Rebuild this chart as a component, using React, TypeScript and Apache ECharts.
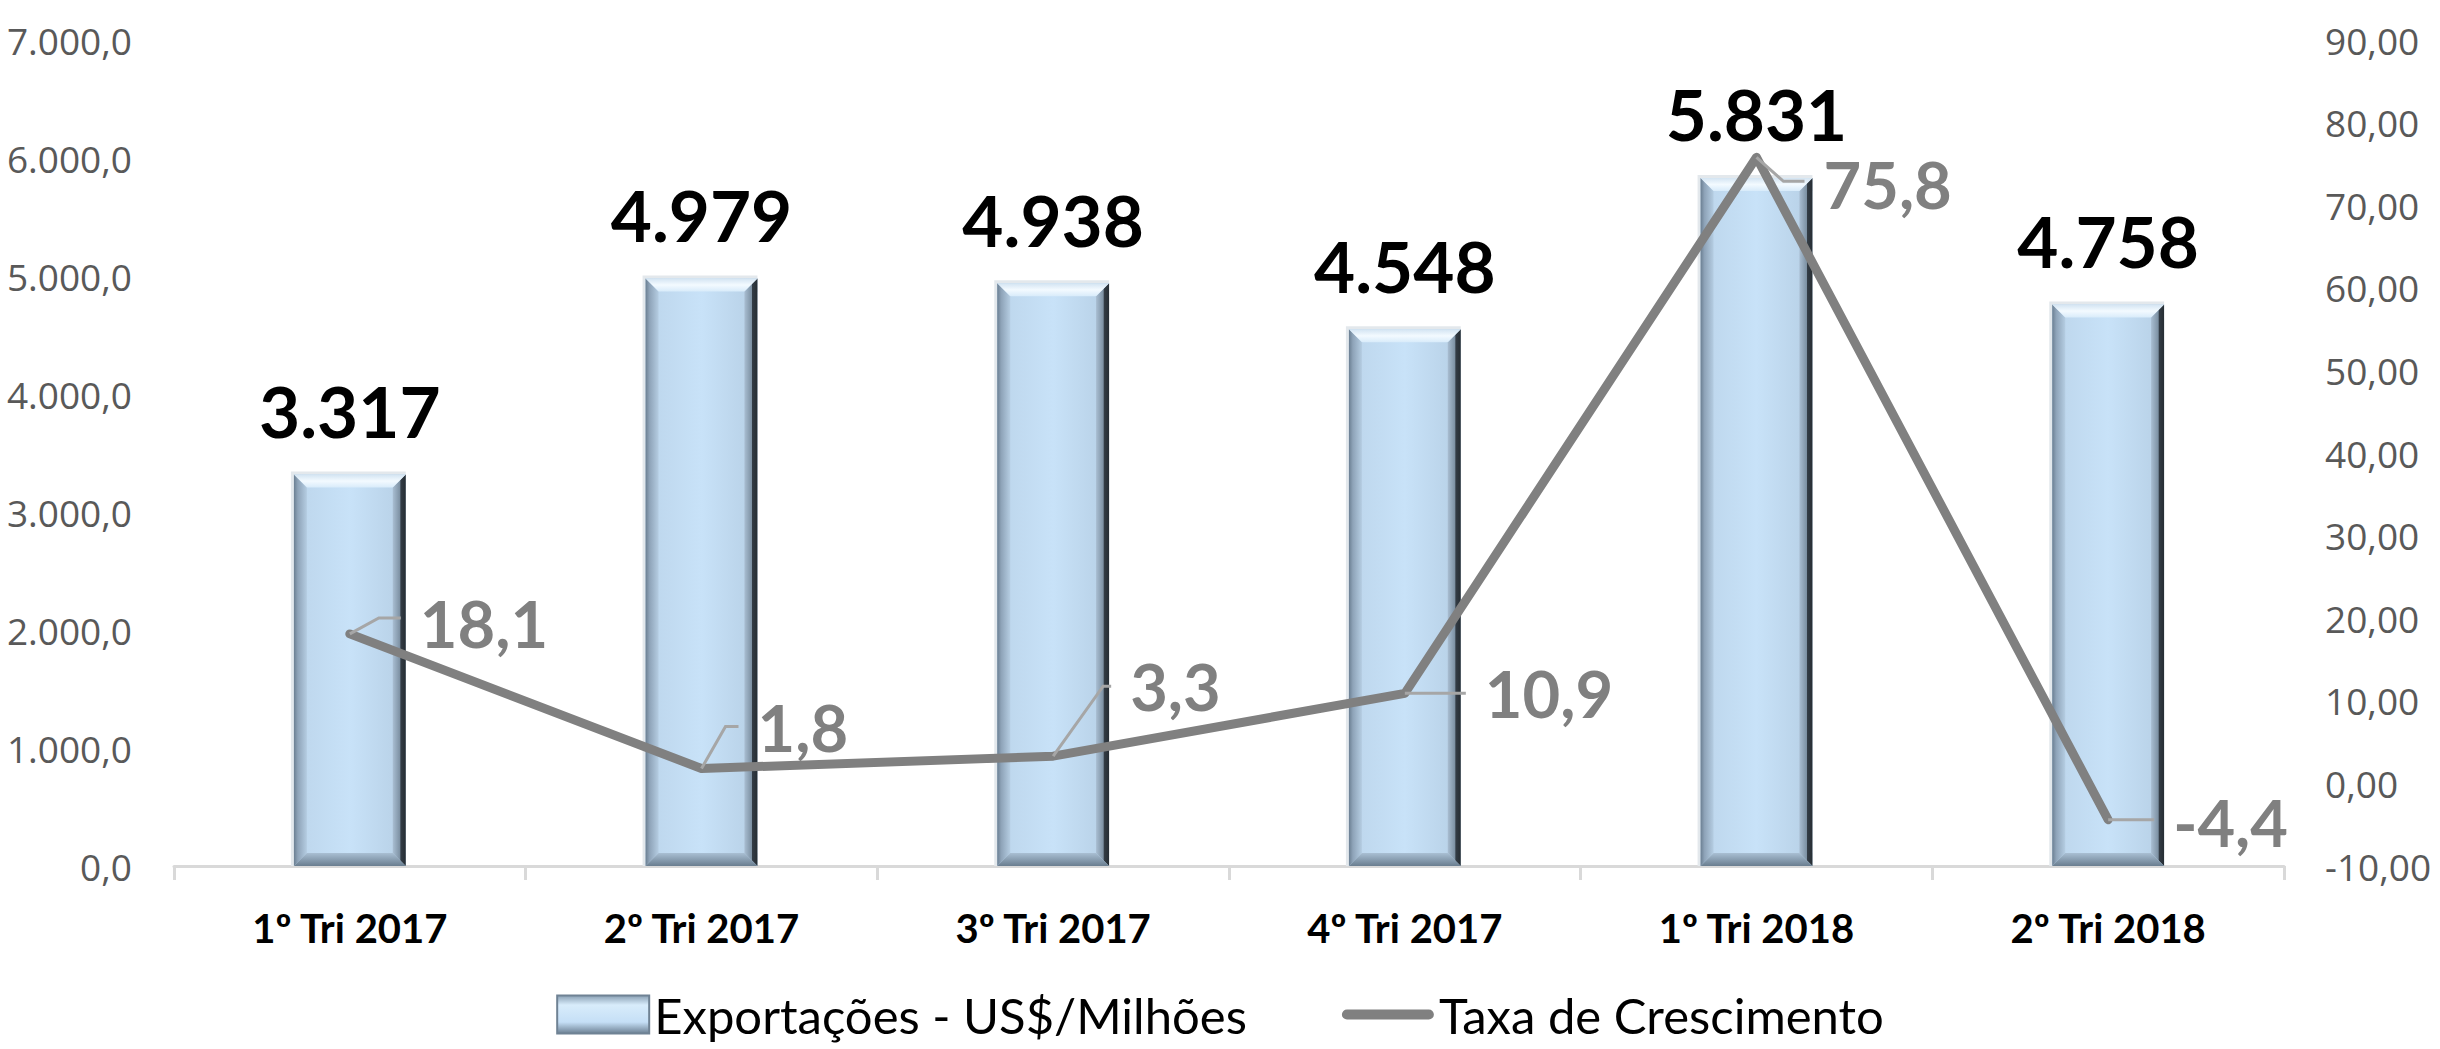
import React, { useEffect, useRef } from 'react';
import * as echarts from 'echarts';

// ---- data ----
const categories = ['1º Tri 2017', '2º Tri 2017', '3º Tri 2017', '4º Tri 2017', '1º Tri 2018', '2º Tri 2018'];
const exportacoes = [3317, 4979, 4938, 4548, 5831, 4758];
const taxaCrescimento = [18.1, 1.8, 3.3, 10.9, 75.8, -4.4];
const leftAxisTicks = [0, 1000, 2000, 3000, 4000, 5000, 6000, 7000];
const rightAxisTicks = [-10, 0, 10, 20, 30, 40, 50, 60, 70, 80, 90];
const barSeriesName = 'Exportações - US$/Milhões';
const lineSeriesName = 'Taxa de Crescimento';

// ---- label layout (offsets from the data point, in px) ----
const growthLabelOffsets = [[70, -11], [56, -42], [77, -70], [80, 0], [67, 27], [65, 2]];
const growthLeaderKnees = [[29, -16], [24, -42], [50, -70], [0, 0], [27, 24], [0, 0]];

const fmtThousands = (v: number) => String(Math.round(v)).replace(/\B(?=(\d{3})+(?!\d))/g, '.');
const fmtLeft = (v: number) => fmtThousands(v) + ',0';
const fmtRight = (v: number) => v.toFixed(2).replace('.', ',');
const fmtRate = (v: number) => v.toFixed(1).replace('.', ',');

const G = echarts.graphic.LinearGradient;

function renderBar(params: any, api: any) {
  const idx = api.value(0);
  const val = api.value(1);
  const top = api.coord([idx, val]);
  const base = api.coord([idx, 0]);
  const bw = api.size([1, 0])[0] * 0.318;
  const l = top[0] - bw / 2;
  const r = top[0] + bw / 2;
  const t = top[1];
  const b = base[1];
  const e = Math.min(13, (b - t) / 2);
  return {
    type: 'group',
    children: [
      { type: 'rect', shape: { x: l - 3, y: t - 3, width: bw + 3, height: b - t + 3 }, style: { fill: '#e3e8ec' } },
      {
        type: 'rect',
        shape: { x: l, y: t, width: bw, height: b - t },
        style: {
          fill: new G(0, 0, 1, 0, [
            { offset: 0, color: '#bcd5eb' },
            { offset: 0.5, color: '#c8e2f8' },
            { offset: 1, color: '#b6cfe5' },
          ]),
        },
      },
      {
        type: 'polygon',
        shape: { points: [[l, t], [l + e, t + e], [l + e, b - e], [l, b]] },
        style: {
          fill: new G(0, 0, 1, 0, [
            { offset: 0, color: '#6b7f92' },
            { offset: 0.3, color: '#8ea3b8' },
            { offset: 1, color: '#b5cde2' },
          ]),
        },
      },
      {
        type: 'polygon',
        shape: { points: [[r, t], [r, b], [r - e, b - e], [r - e, t + e]] },
        style: {
          fill: new G(0, 0, 1, 0, [
            { offset: 0, color: '#a9bed2' },
            { offset: 0.55, color: '#7d91a3' },
            { offset: 0.62, color: '#333c45' },
            { offset: 1, color: '#262d33' },
          ]),
        },
      },
      {
        type: 'polygon',
        shape: { points: [[l, t], [r, t], [r - e, t + e], [l + e, t + e]] },
        style: {
          fill: new G(0, 0, 0, 1, [
            { offset: 0, color: '#d3e4f2' },
            { offset: 0.5, color: '#f3faff' },
            { offset: 1, color: '#d8ebfa' },
          ]),
        },
      },
      {
        type: 'polygon',
        shape: { points: [[l, b], [l + e, b - e], [r - e, b - e], [r, b]] },
        style: {
          fill: new G(0, 0, 0, 1, [
            { offset: 0, color: '#a9bfd3' },
            { offset: 1, color: '#6a7e90' },
          ]),
        },
      },
      {
        type: 'text',
        style: {
          text: fmtThousands(val),
          x: top[0],
          y: t - 64,
          align: 'center',
          verticalAlign: 'middle',
          fontFamily: 'Lato',
          fontWeight: 'bold',
          fontSize: 71,
          fill: '#000000',
        },
      },
    ],
  };
}

function renderGrowthLabel(params: any, api: any) {
  const i = params.dataIndex;
  const v = api.value(1);
  const p = api.coord([api.value(0), v]);
  const [dx, dy] = growthLabelOffsets[i];
  const [kx, ky] = growthLeaderKnees[i];
  const lx = p[0] + dx;
  const ly = p[1] + dy;
  return {
    type: 'group',
    children: [
      {
        type: 'polyline',
        shape: { points: [[p[0], p[1]], [p[0] + kx, p[1] + ky], [lx - 19, p[1] + ky]] },
        style: { stroke: '#a6a6a6', lineWidth: 3, fill: 'none' },
      },
      {
        type: 'text',
        style: {
          text: fmtRate(v),
          x: lx,
          y: ly,
          align: 'left',
          verticalAlign: 'middle',
          fontFamily: 'Lato',
          fontWeight: 'bold',
          fontSize: 65,
          fill: '#808080',
        },
      },
    ],
  };
}

export default function App() {
  const ref = useRef<HTMLDivElement>(null);
  useEffect(() => {
    if (!ref.current) return;
    document.body.style.margin = '0';
    const chart = echarts.init(ref.current, null, { renderer: 'svg', width: 2440, height: 1049 });
    const axisLabelStyle = { fontFamily: 'Open Sans', fontSize: 37, color: '#595959' };
    const option: any = {
      animation: false,
      backgroundColor: '#ffffff',
      grid: { left: 174, right: 156, top: 40, bottom: 183, containLabel: false },
      legend: {
        left: 'center',
        top: 990,
        itemWidth: 92,
        itemHeight: 38,
        itemGap: 95,
        padding: 0,
        selectedMode: false,
        textStyle: { fontFamily: 'Lato', fontSize: 49, color: '#000000' },
        data: [
          {
            name: barSeriesName,
            icon: 'rect',
            itemStyle: {
              color: new G(0, 0, 0, 1, [
                { offset: 0, color: '#8aa0b4' },
                { offset: 0.25, color: '#d8ecfb' },
                { offset: 0.7, color: '#c5dff6' },
                { offset: 1, color: '#6c8093' },
              ]),
              borderColor: '#6f8294',
              borderWidth: 2,
            },
          },
          {
            name: lineSeriesName,
            icon: 'path://M5,0L85,0A5,5,0,0,1,85,10L5,10A5,5,0,0,1,5,0Z',
            itemStyle: { color: '#808080', borderWidth: 0 },
          },
        ],
      },
      xAxis: {
        type: 'category',
        data: categories,
        boundaryGap: true,
        axisLine: { show: true, lineStyle: { color: '#d9d9d9', width: 3 } },
        axisTick: { show: true, length: 14, lineStyle: { color: '#d9d9d9', width: 3 } },
        axisLabel: { margin: 42, fontFamily: 'Lato', fontWeight: 'bold', fontSize: 40, color: '#000000' },
        splitLine: { show: false },
      },
      yAxis: [
        {
          type: 'value',
          position: 'left',
          min: leftAxisTicks[0],
          max: leftAxisTicks[leftAxisTicks.length - 1],
          interval: leftAxisTicks[1] - leftAxisTicks[0],
          axisLine: { show: false },
          axisTick: { show: false },
          splitLine: { show: false },
          axisLabel: { ...axisLabelStyle, margin: 42, formatter: (v: number) => fmtLeft(v) },
        },
        {
          type: 'value',
          position: 'right',
          min: rightAxisTicks[0],
          max: rightAxisTicks[rightAxisTicks.length - 1],
          interval: rightAxisTicks[1] - rightAxisTicks[0],
          axisLine: { show: false },
          axisTick: { show: false },
          splitLine: { show: false },
          axisLabel: { ...axisLabelStyle, margin: 41, formatter: (v: number) => fmtRight(v) },
        },
      ],
      series: [
        {
          type: 'custom',
          name: barSeriesName,
          yAxisIndex: 0,
          z: 2,
          silent: true,
          data: exportacoes.map((v, i) => [i, v]),
          encode: { x: 0, y: 1 },
          itemStyle: { color: '#c5dff6' },
          renderItem: renderBar,
        },
        {
          type: 'line',
          name: lineSeriesName,
          yAxisIndex: 1,
          z: 3,
          silent: true,
          data: taxaCrescimento,
          symbol: 'none',
          lineStyle: { color: '#808080', width: 9, cap: 'round', join: 'round' },
          itemStyle: { color: '#808080' },
        },
        {
          type: 'custom',
          name: 'rotulosTaxa',
          yAxisIndex: 1,
          z: 4,
          silent: true,
          data: taxaCrescimento.map((v, i) => [i, v]),
          encode: { x: 0, y: 1 },
          renderItem: renderGrowthLabel,
        },
      ],
    };
    chart.setOption(option);
    return () => chart.dispose();
  }, []);
  return (
    <div
      ref={ref}
      style={{ position: 'absolute', left: 0, top: 0, width: 2440, height: 1049, background: '#ffffff' }}
    />
  );
}
